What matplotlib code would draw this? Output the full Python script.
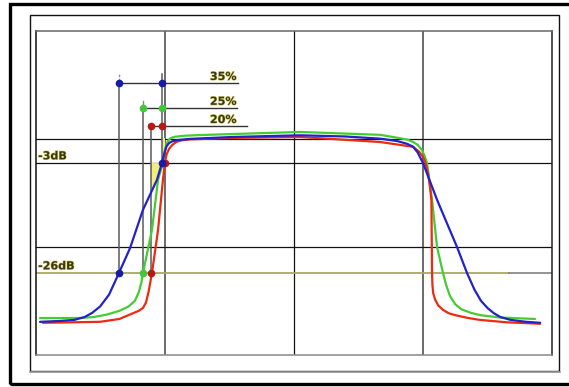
import matplotlib
matplotlib.use("Agg")
import matplotlib.pyplot as plt
import matplotlib.patheffects as pe
from matplotlib.patches import Rectangle, Polygon

# ---- data: normalised frequency (x) vs. level in dB (y) ----
blue_x = [-1.965, -1.80, -1.70, -1.62, -1.56, -1.50, -1.43, -1.354, -1.268, -1.168,
          -1.059, -1.021, -1.00, -0.985, -0.965, -0.94, -0.90, -0.804, -0.471, 0.048,
          0.40, 0.668, 0.80, 0.88, 0.924, 0.96, 1.001, 1.110, 1.265, 1.342,
          1.40, 1.45, 1.50, 1.55, 1.60, 1.68, 1.80, 1.908]
blue_y = [-36.2, -36.0, -35.8, -35.2, -34.3, -33.0, -30.5, -26.0, -20.8, -12.8,
          -6.5, -3.0, -0.8, 0.5, 1.2, 1.55, 1.8, 2.05, 2.45, 2.8,
          2.55, 2.1, 1.6, 1.0, 0.4, -0.8, -3.0, -10.7, -20.6, -26.0,
          -29.5, -31.8, -33.3, -34.4, -35.2, -35.8, -36.2, -36.4]

green_x = [-1.965, -1.656, -1.55, -1.45, -1.35, -1.28, -1.23, -1.20, -1.18, -1.168,
           -1.098, -1.051, -1.013, -0.998, -0.985, -0.97, -0.95, -0.92, -0.85, -0.726,
           0.048, 0.668, 0.80, 0.88, 0.924, 0.96, 0.993, 1.015, 1.032, 1.071,
           1.110, 1.156, 1.18, 1.21, 1.25, 1.30, 1.37, 1.443, 1.60, 1.869]
green_y = [-35.4, -35.4, -35.2, -34.7, -33.9, -33.0, -31.8, -30.0, -28.0, -26.0,
           -17.0, -6.5, -3.0, -0.3, 1.0, 1.8, 2.25, 2.5, 2.7, 2.85,
           3.5, 2.9, 2.3, 1.9, 1.4, 0.8, -0.3, -1.6, -3.0, -10.7,
           -20.6, -26.0, -28.5, -30.8, -32.5, -33.6, -34.3, -34.8, -35.3, -35.6]

red_x = [-1.942, -1.501, -1.35, -1.245, -1.20, -1.168, -1.145, -1.125, -1.11, -1.098,
         -1.051, -1.013, -0.998, -0.985, -0.965, -0.94, -0.91, -0.87, -0.80, -0.471,
         0.048, 0.668, 0.924, 0.97, 1.001, 1.02, 1.040, 1.055, 1.066, 1.071,
         1.074, 1.08, 1.094, 1.12, 1.156, 1.20, 1.25, 1.35, 1.443, 1.65, 1.908]
red_y = [-36.4, -36.2, -35.6, -34.4, -33.9, -33.3, -32.2, -30.0, -27.8, -26.0,
         -17.0, -6.5, -3.0, -1.2, 0.0, 0.8, 1.4, 1.75, 1.95, 2.25,
         2.45, 1.4, 0.4, -0.6, -1.7, -3.0, -5.1, -8.0, -10.7, -26.0,
         -28.5, -30.2, -31.5, -32.8, -33.7, -34.4, -34.8, -35.4, -35.8, -36.3, -36.6]

# roll-off factors and their marker rows
rolloff_labels = ["35%", "25%", "20%"]
rolloff_level = [13.7, 8.5, 4.75]          # dB height of each marker row
edge_26db = [-1.354, -1.168, -1.106]       # -26 dB crossing, left edge
edge_3db = [-1.021, -1.021, -1.021]        # -3 dB reference
row_end = [-0.432, -0.439, -0.362]
label_level = [15.0, 9.8, 6.0]
series_colors = ["#2222cc", "#44cc33", "#ee2a10"]
marker_colors = ["#1a1aa8", "#40c838", "#b81818"]

ref_levels = [-3.0, -26.0]
ref_labels = ["-3dB", "-26dB"]
grid_levels = [2.0, -3.0, -20.5]
grid_x = [-1.0, 0.0, 1.0]

W, H = 569, 387
fig = plt.figure(figsize=(W / 100, H / 100), dpi=100)
fig.patch.set_facecolor("white")


def fx(px):
    return px / W


def fy(py):
    return 1 - py / H


# outer thick frame and inner frame
fig.add_artist(Rectangle((fx(10), fy(384)), fx(600) - fx(10), fy(4) - fy(384),
                         transform=fig.transFigure, fill=False, lw=2.4, ec="black"))
fig.add_artist(Rectangle((fx(29.5), fy(371)), fx(559) - fx(29.5), fy(15) - fy(371),
                         transform=fig.transFigure, fill=False, lw=1.0, ec="#111111"))
fig.add_artist(plt.Line2D([fx(30), fx(560)], [fy(372), fy(372)],
                          transform=fig.transFigure, lw=1.2, color="#999999"))

ax = fig.add_axes([fx(35.5), fy(354.5), fx(552) - fx(35.5), fy(30.5) - fy(354.5)])
ax.set_xlim(-2.0, 2.0)
ax.set_ylim(-43.03, 24.71)
ax.set_xticks([])
ax.set_yticks([])
for side, col in [("left", "#111111"), ("top", "#666666"),
                  ("right", "#222222"), ("bottom", "#888888")]:
    ax.spines[side].set_color(col)
    ax.spines[side].set_linewidth(1.1)

# grid
for gx in grid_x:
    if gx == 0.0:
        ax.axvline(gx, color="#111111", lw=0.9, zorder=1)
    else:
        ax.axvline(gx, color="#6a6a6a", lw=1.4, zorder=1)
for gy in grid_levels:
    ax.axhline(gy, color="#111111", lw=0.9, zorder=1)

# -26 dB reference line (olive, grey at the far right)
ax.plot([-2.0, 1.667], [-26.0, -26.0], color="#a8a860", lw=1.3, zorder=1)
ax.plot([1.667, 2.0], [-26.0, -26.0], color="#777777", lw=1.1, zorder=1)

# highlighted transition region
ax.add_patch(Polygon([(-1.106, -3.0), (-1.021, -3.0), (-1.068, -7.5), (-1.106, -9.5)],
                     closed=True, fc="#f2ee7a", ec="none", zorder=1.5))
ax.add_patch(Polygon([(-1.021, -3.0), (-0.998, -3.0), (-0.998, 2.2), (-1.021, 2.2)],
                     closed=True, fc="#f2ee7a", ec="none", zorder=1.5))

# roll-off construction lines
line_col = "#5a5a5a"
for lvl, x26, x3, xend in zip(rolloff_level, edge_26db, edge_3db, row_end):
    ax.plot([x26, x26], [lvl, -26.0], color=line_col, lw=1.1, zorder=2)
    ax.plot([x26, xend], [lvl, lvl], color="#333333", lw=1.0, zorder=2)
ax.plot([edge_3db[0], edge_3db[0]], [15.6, -3.0], color=line_col, lw=1.1, zorder=2)
ax.plot([edge_26db[0], edge_26db[0]], [15.6, rolloff_level[0]], color="#999999",
        lw=1.0, ls=(0, (2, 1)), zorder=2)
ax.plot([edge_26db[1], edge_26db[1]], [9.95, rolloff_level[1]], color="#888888",
        lw=1.0, zorder=2)

# response curves
for xs, ys, col in [(green_x, green_y, series_colors[1]),
                    (red_x, red_y, series_colors[2]),
                    (blue_x, blue_y, series_colors[0])]:
    ax.plot(xs, ys, color=col, lw=1.6, solid_joinstyle="round",
            solid_capstyle="round", zorder=3)

# marker dots
for lvl, x26, x3, mc in zip(rolloff_level, edge_26db, edge_3db, marker_colors):
    ax.plot([x26, x3], [lvl, lvl], ls="none", marker="o", ms=4.5,
            mfc=mc, mec=mc, zorder=4)
    ax.plot([x26], [-26.0], ls="none", marker="o", ms=4.5, mfc=mc, mec=mc, zorder=4)
ax.plot([-0.998], [-3.0], ls="none", marker="o", ms=4.5,
        mfc=marker_colors[2], mec=marker_colors[2], zorder=4)
ax.plot([-1.021], [-3.0], ls="none", marker="o", ms=4.5,
        mfc=marker_colors[0], mec=marker_colors[0], zorder=4)

# text labels
glow = [pe.withStroke(linewidth=0.9, foreground="#d6ce6c")]
for lab, lvl in zip(rolloff_labels, label_level):
    ax.text(-0.649, lvl, lab, fontsize=8, fontweight="bold", color="#3a3814",
            ha="left", va="center", path_effects=glow, zorder=5)
for lab, lvl in zip(ref_labels, ref_levels):
    ax.text(-1.98, lvl + 0.35, lab, fontsize=8, fontweight="bold", color="#3a3814",
            ha="left", va="bottom", path_effects=glow, zorder=5)

fig.savefig("out.png", dpi=100)
